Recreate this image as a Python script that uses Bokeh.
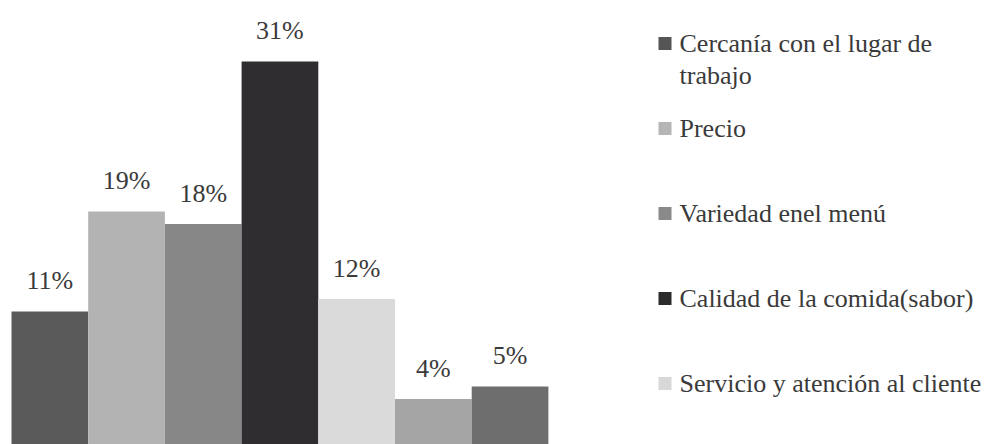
from bokeh.plotting import figure
from bokeh.layouts import row
from bokeh.models import Range1d, ColumnDataSource
from bokeh.core.properties import value
from bokeh.embed import file_html
from bokeh.resources import INLINE

# ---- data ----
bar_values = [11, 19, 18, 31, 12, 4, 5]
bar_labels = ["11%", "19%", "18%", "31%", "12%", "4%", "5%"]
bar_colors = ["#5a5a5a", "#b3b3b3", "#878787", "#2f2d30", "#dadada", "#a5a5a5", "#6e6e6e"]

legend_labels = [
    "Cercanía con el lugar de\ntrabajo",
    "Precio",
    "Variedad enel menú",
    "Calidad de la comida(sabor)",
    "Servicio y atención al cliente",
]
legend_colors = ["#555555", "#b5b5b5", "#8a8a8a", "#2b2b2b", "#d8d8d8"]

FONT = value("'Liberation Serif', 'DejaVu Serif', serif")
TEXT_COLOR = "#3a3a3a"

W_BAR, W_LEG, H = 608, 384, 444

# ---- bar figure ----
BAR_PX = 76.7
x0 = -11.0 / BAR_PX
p = figure(width=W_BAR, height=H, output_backend="svg", toolbar_location=None,
           x_range=Range1d(x0, x0 + W_BAR / BAR_PX), y_range=Range1d(0.36, 35.88),
           x_axis_location=None, y_axis_location=None, min_border=0,
           outline_line_color=None, background_fill_color="white")
p.grid.visible = False

xs = [i + 0.5 for i in range(len(bar_values))]
src = ColumnDataSource(dict(x=xs, top=bar_values, color=bar_colors, label=bar_labels))
p.vbar(x="x", top="top", bottom=0, width=1.0, fill_color="color", line_color=None, source=src)
p.text(x="x", y="top", text="label", source=src, y_offset=-31,
       text_align="center", text_baseline="middle",
       text_font=FONT, text_font_size="26px", text_color=TEXT_COLOR)

# ---- legend figure (pixel coordinates, y downward) ----
lg = figure(width=W_LEG, height=H, output_backend="svg", toolbar_location=None,
            x_range=Range1d(0, W_LEG), y_range=Range1d(H, 0),
            x_axis_location=None, y_axis_location=None, min_border=0,
            outline_line_color=None, background_fill_color="white")
lg.grid.visible = False

sq_x, sq_y, sq_c = [], [], []
tx, ty, tt = [], [], []
for k, (lab, col) in enumerate(zip(legend_labels, legend_colors)):
    yk = 43 + 85 * k
    sq_x.append(56.5)
    sq_y.append(yk)
    sq_c.append(col)
    for j, line in enumerate(lab.split("\n")):
        tx.append(71)
        ty.append(yk + 32 * j)
        tt.append(line)

lg.scatter(x=sq_x, y=sq_y, marker="square", size=13, fill_color=sq_c, line_color=None)
lg.text(x=tx, y=ty, text=tt, text_align="left", text_baseline="middle",
        text_font=FONT, text_font_size="26px", text_color=TEXT_COLOR)

layout = row(p, lg, spacing=0)
open("out.html", "w").write(file_html(layout, INLINE))
